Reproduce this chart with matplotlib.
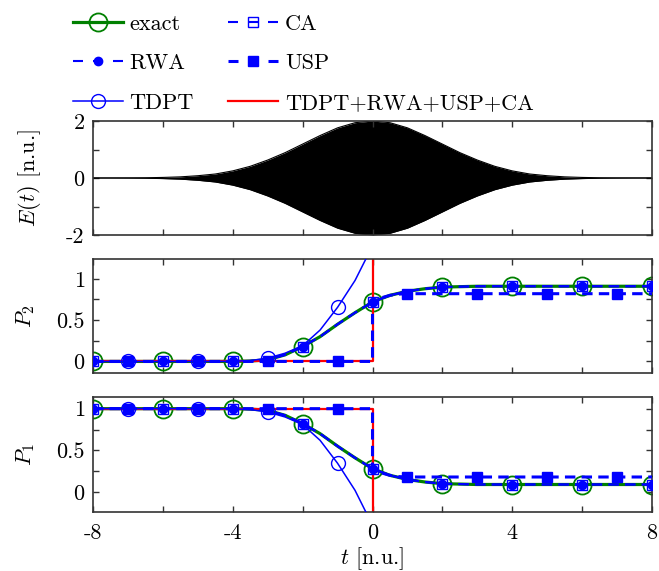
import numpy as np
import matplotlib
matplotlib.use("Agg")
import matplotlib.pyplot as plt
from matplotlib.lines import Line2D

plt.rcParams['font.family'] = ['cmr10', 'DejaVu Serif']
plt.rcParams['mathtext.fontset'] = 'cm'
plt.rcParams['axes.unicode_minus'] = False
plt.rcParams['axes.formatter.use_mathtext'] = True
plt.rcParams['lines.scale_dashes'] = False

# ---------------- data ----------------
# time grid (n.u.)
t = [-8, -7.5, -7, -6.5, -6, -5.5, -5, -4.5, -4, -3.5, -3, -2.5, -2, -1.5, -1, -0.5,
     0, 0.5, 1, 1.5, 2, 2.5, 3, 3.5, 4, 4.5, 5, 5.5, 6, 6.5, 7, 7.5, 8]

# field envelope |E(t)|
E_env = [0, 0, 0.003, 0.008, 0.02, 0.04, 0.08, 0.14, 0.25, 0.41, 0.63, 0.89, 1.19, 1.49, 1.76, 1.94,
         2.0, 1.94, 1.76, 1.49, 1.19, 0.89, 0.63, 0.41, 0.25, 0.14, 0.08, 0.04, 0.02, 0.008, 0.003, 0, 0]

# P2 (upper level population)
P2_exact = [0, 0, 0, 0, 0, 0, 0, 0, 0, 0.005, 0.02, 0.08, 0.18, 0.30, 0.45, 0.59,
            0.72, 0.80, 0.85, 0.88, 0.90, 0.905, 0.91, 0.91, 0.91, 0.91, 0.91, 0.91, 0.91, 0.91, 0.91, 0.91, 0.91]
P2_rwa = [0, 0, 0, 0, 0, 0, 0, 0, 0, 0.005, 0.02, 0.08, 0.18, 0.30, 0.45, 0.59,
          0.72, 0.80, 0.85, 0.88, 0.90, 0.905, 0.91, 0.91, 0.91, 0.91, 0.91, 0.91, 0.91, 0.91, 0.91, 0.91, 0.91]
P2_ca = [0, 0, 0, 0, 0, 0, 0, 0, 0, 0.005, 0.02, 0.08, 0.18, 0.30, 0.45, 0.59,
         0.72, 0.80, 0.85, 0.88, 0.90, 0.905, 0.91, 0.91, 0.91, 0.91, 0.91, 0.91, 0.91, 0.91, 0.91, 0.91, 0.91]
t_tdpt = [-8, -7.5, -7, -6.5, -6, -5.5, -5, -4.5, -4, -3.5, -3, -2.5, -2, -1.5, -1, -0.5, 0]
P2_tdpt = [0, 0, 0, 0, 0, 0, 0, 0, 0.002, 0.01, 0.04, 0.10, 0.19, 0.38, 0.655, 0.98, 1.40]
t_usp = [-8, -7, -6, -5, -4, -3, -2, -1, 0, 0, 0.25, 0.5, 0.75, 1, 2, 3, 4, 5, 6, 7, 8]
P2_usp = [0, 0, 0, 0, 0, 0, 0, 0, 0, 0.72, 0.77, 0.80, 0.815, 0.82, 0.82, 0.82, 0.82, 0.82, 0.82, 0.82, 0.82]
t_all = [-8, 0, 0]
P2_all = [0, 0, 1.5]

# P1 (lower level population)
P1_exact = [1, 1, 1, 1, 1, 1, 1, 1, 1, 0.995, 0.98, 0.92, 0.82, 0.70, 0.55, 0.41,
            0.28, 0.20, 0.15, 0.12, 0.10, 0.095, 0.09, 0.09, 0.09, 0.09, 0.09, 0.09, 0.09, 0.09, 0.09, 0.09, 0.09]
P1_rwa = [1, 1, 1, 1, 1, 1, 1, 1, 1, 0.995, 0.98, 0.92, 0.82, 0.70, 0.55, 0.41,
          0.28, 0.20, 0.15, 0.12, 0.10, 0.095, 0.09, 0.09, 0.09, 0.09, 0.09, 0.09, 0.09, 0.09, 0.09, 0.09, 0.09]
P1_ca = [1, 1, 1, 1, 1, 1, 1, 1, 1, 0.995, 0.98, 0.92, 0.82, 0.70, 0.55, 0.41,
         0.28, 0.20, 0.15, 0.12, 0.10, 0.095, 0.09, 0.09, 0.09, 0.09, 0.09, 0.09, 0.09, 0.09, 0.09, 0.09, 0.09]
P1_tdpt = [1, 1, 1, 1, 1, 1, 1, 1, 0.998, 0.99, 0.96, 0.90, 0.81, 0.62, 0.345, 0.02, -0.40]
P1_usp = [1, 1, 1, 1, 1, 1, 1, 1, 1, 0.28, 0.23, 0.20, 0.185, 0.18, 0.18, 0.18, 0.18, 0.18, 0.18, 0.18, 0.18]
P1_all = [1, 1, -0.5]

labels = ['exact', 'RWA', 'TDPT', 'CA', 'USP', 'TDPT+RWA+USP+CA']
xticks = [-8, -6, -4, -2, 0, 2, 4, 6, 8]
xticklabels = ['-8', '', '-4', '', '0', '', '4', '', '8']
E_ticks = [-2, -1, 0, 1, 2]
E_ticklabels = ['-2', '', '0', '', '2']
P_ticks = [0, 0.25, 0.5, 0.75, 1]
P_ticklabels = ['0', '', '0.5', '', '1']

# ---------------- figure ----------------
W, H = 659, 571
fig = plt.figure(figsize=(W / 100, H / 100), dpi=100)

def ax_at(x0, y0, x1, y1):
    return fig.add_axes([x0 / W, 1 - y1 / H, (x1 - x0) / W, (y1 - y0) / H])

axE = ax_at(93, 121, 652, 235)
ax2 = ax_at(93, 259, 652, 373)
ax1 = ax_at(93, 397, 652, 512)

FS = 16
SP = '#333333'
GREEN = '#008000'
BLUE = '#0000ff'
RED = '#ff0000'


def style(ax, yt, ytl, ylab, lx):
    ax.set_xlim(-8, 8)
    ax.set_xticks(xticks)
    ax.set_yticks(yt)
    ax.set_yticklabels(ytl)
    ax.tick_params(direction='in', length=4, width=1, top=True, right=True,
                   labelsize=FS, color=SP, pad=6)
    for s in ax.spines.values():
        s.set_color(SP)
        s.set_linewidth(1.2)
    ax.set_ylabel(ylab, fontsize=FS)
    ax.yaxis.set_label_coords(lx, 0.5)


# E(t)
env = np.array(E_env)
axE.fill_between(t, -env, env, color='black', lw=0)
axE.plot(t, env, color='black', lw=0.8)
axE.plot(t, -env, color='black', lw=0.8)
axE.set_ylim(-2, 2)
style(axE, E_ticks, E_ticklabels, r'$E(t)$ [n.u.]', -0.089)
axE.set_xticklabels([])

t_arr = np.array(t)
even_idx = list(np.where(np.isclose(np.mod(t_arr, 2), 0))[0])
odd_tdpt = list(np.where(np.isclose(np.mod(np.array(t_tdpt), 2), 1))[0])
odd_usp = list(np.where(np.isclose(np.mod(np.array(t_usp), 2), 1))[0])

DASH = (7.5, 4.5)

sty_exact = dict(color=GREEN, lw=2.3, marker='o', ms=13, mfc='none', mec=GREEN, mew=1.3)
sty_rwa = dict(color=BLUE, lw=1.5, ls='--', dashes=DASH, marker='o', ms=6, mfc=BLUE, mec=BLUE)
sty_tdpt = dict(color=BLUE, lw=1.1, marker='o', ms=10, mfc='none', mec=BLUE, mew=1.0)
sty_ca = dict(color=BLUE, lw=1.5, ls='--', dashes=DASH, marker='s', ms=7.5, mfc='none', mec=BLUE, mew=1.0)
sty_usp = dict(color=BLUE, lw=2.2, ls='--', dashes=DASH, marker='s', ms=6.5, mfc=BLUE, mec=BLUE)
sty_all = dict(color=RED, lw=1.6)


def draw(ax, exact, rwa, tdpt, ca, usp, allc):
    ax.plot(t, exact, markevery=even_idx, zorder=2, **sty_exact)
    ax.plot(t_all, allc, zorder=2.5, **sty_all)
    ax.plot(t, rwa, markevery=even_idx, zorder=3, **sty_rwa)
    ax.plot(t_tdpt, tdpt, markevery=odd_tdpt, zorder=3, **sty_tdpt)
    ax.plot(t, ca, markevery=even_idx, zorder=3, **sty_ca)
    ax.plot(t_usp, usp, markevery=odd_usp, zorder=3.5, **sty_usp)


draw(ax2, P2_exact, P2_rwa, P2_tdpt, P2_ca, P2_usp, P2_all)
ax2.set_ylim(-0.14, 1.24)
style(ax2, P_ticks, P_ticklabels, r'$P_2$', -0.10)
ax2.set_xticklabels([])

draw(ax1, P1_exact, P1_rwa, P1_tdpt, P1_ca, P1_usp, P1_all)
ax1.set_ylim(-0.24, 1.14)
style(ax1, P_ticks, P_ticklabels, r'$P_1$', -0.10)
ax1.set_xticklabels(xticklabels)
ax1.tick_params(axis='x', pad=8)
ax1.set_xlabel(r'$t$ [n.u.]', fontsize=FS)
ax1.xaxis.set_label_coords(0.5, -0.285)

# legend (dashed handles: dash - marker - dash)
LEG_DASH = (7.2, 7.2)
def leg_style(s):
    d = dict(s)
    if d.get('ls') == '--':
        d['dashes'] = LEG_DASH
    return d

hs = [Line2D([], [], **leg_style(s)) for s in (sty_exact, sty_rwa, sty_tdpt, sty_ca, sty_usp, sty_all)]
fig.legend(hs, labels, ncol=2, loc='upper left', bbox_to_anchor=(73 / W, 1 - 14 / H),
           frameon=False, fontsize=FS, handlelength=2.25, handletextpad=0.3, columnspacing=1.55,
           labelspacing=0.9, borderpad=0, borderaxespad=0, numpoints=1)

fig.savefig('out.png', dpi=100)
